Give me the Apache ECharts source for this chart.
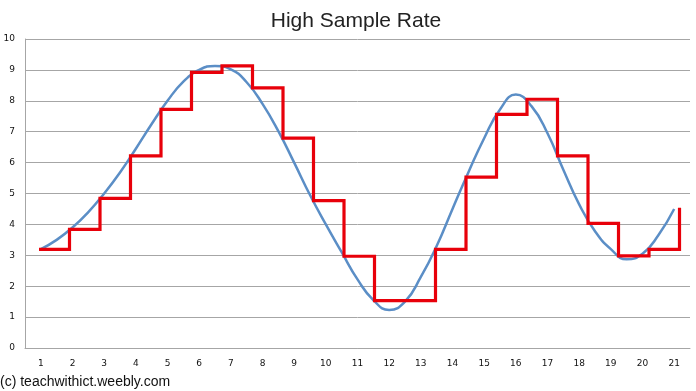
<!DOCTYPE html>
<html>
<head>
<meta charset="utf-8">
<script src="https://cdn.jsdelivr.net/npm/echarts@6/dist/echarts.min.js"></script>
<style>
html,body{margin:0;padding:0;background:#fff;}
#chart{width:696px;height:391px;}
</style>
</head>
<body>
<div id="chart"></div>
<script>
// Category labels on the x axis
var categories = ['1','2','3','4','5','6','7','8','9','10','11','12','13','14','15','16','17','18','19','20','21'];
// Y tick range
var yMin = 0, yMax = 10, yStep = 1;
// Smooth analogue signal: positions in category units and values
var waveX = [1,1.5,2,2.5,3,3.5,4,4.5,5,5.5,6,6.5,7,7.5,8,8.5,9,9.5,10,10.5,11,11.5,12,12.5,13,13.5,14,14.5,15,15.5,16,16.5,17,17.5,18,18.5,19,19.5,20,20.5,21];
var waveY = [3.2,3.5,3.9,4.4,5.0,5.68,6.45,7.25,8.0,8.62,9.0,9.13,9.02,8.6,7.9,7.02,6.0,4.95,4.0,3.1,2.22,1.55,1.23,1.5,2.3,3.3,4.5,5.68,6.79,7.72,8.2,7.82,6.95,5.77,4.65,3.78,3.2,2.87,3.05,3.65,4.5];
// Sampled (stepped) values, one per sample index 0..21
var sampleIdx = [0,1,2,3,4,5,6,7,8,9,10,11,12,13,14,15,16,17,18,19,20,21];
var sampleVal = [3.19,3.84,4.84,6.22,7.72,8.92,9.13,8.42,6.79,4.77,2.97,1.53,1.53,3.19,5.53,7.56,8.05,6.22,4.03,2.98,3.19,4.54];

var wave = waveX.map(function(x,i){return [x, waveY[i]];});
var samples = sampleIdx.map(function(x,i){return [x, sampleVal[i]];});

var chart = echarts.init(document.getElementById('chart'), null, {renderer:'canvas'});
chart.setOption({
  animation:false,
  backgroundColor:'#ffffff',
  title:{
    text:'High Sample Rate',
    left:351, top:6, textAlign:'center',
    textStyle:{fontFamily:'Liberation Sans, Arial, sans-serif', fontSize:21, fontWeight:'normal', color:'#222'}
  },
  graphic:[{
    type:'text', left:0, top:375,
    style:{text:'(c) teachwithict.weebly.com', font:'14px "Liberation Sans", Arial, sans-serif', fill:'#111'}
  }],
  grid:{left:25, right:6, top:39, bottom:43, containLabel:false},
  xAxis:[
    {type:'category', data:categories, boundaryGap:true,
     axisLine:{show:true, onZero:false, lineStyle:{color:'#a6a6a6', width:1}},
     axisTick:{show:false},
     axisLabel:{margin:11, fontFamily:'DejaVu Sans, sans-serif', fontSize:9, color:'#111'},
     splitLine:{show:false}},
    {type:'value', min:0.5, max:21.5, show:false},
    {type:'value', min:-0.459, max:21.344, show:false}
  ],
  yAxis:{
    type:'value', min:yMin, max:yMax, interval:yStep,
    axisLine:{show:true, onZero:false, lineStyle:{color:'#a6a6a6', width:1}},
    axisTick:{show:false},
    axisLabel:{margin:10, fontFamily:'DejaVu Sans, sans-serif', fontSize:9, color:'#111'},
    splitLine:{show:true, lineStyle:{color:'#a6a6a6', width:1}}
  },
  series:[
    {type:'line', xAxisIndex:1, data:wave, smooth:0.5, symbol:'none',
     lineStyle:{color:'#5b8ec6', width:2.5}, z:2},
    {type:'line', xAxisIndex:2, data:samples, step:'end', symbol:'none',
     lineStyle:{color:'#e8000a', width:3.2, join:'miter'}, z:3}
  ]
});
</script>
</body>
</html>
